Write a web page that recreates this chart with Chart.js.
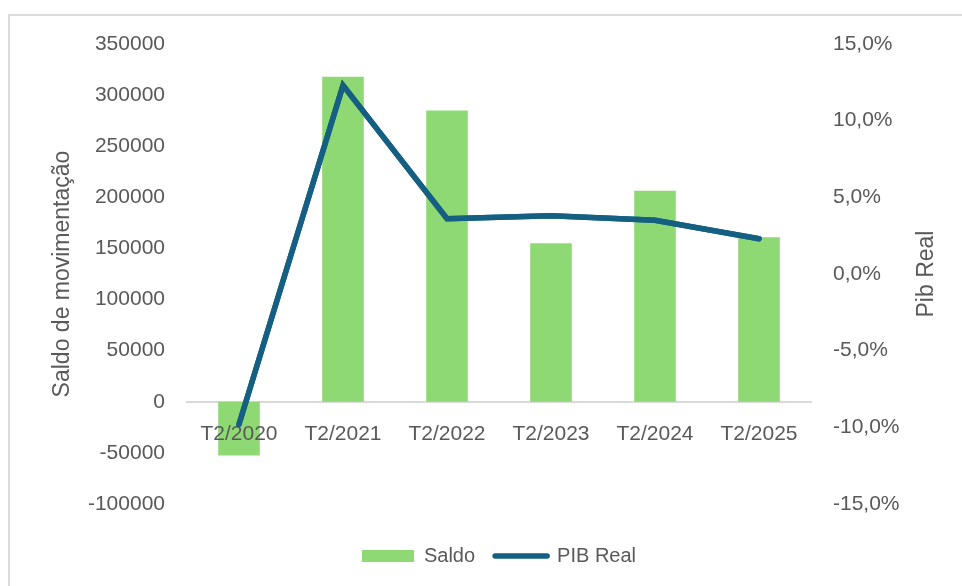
<!DOCTYPE html>
<html>
<head>
<meta charset="utf-8">
<script src="https://cdn.jsdelivr.net/npm/chart.js@4.4.1/dist/chart.umd.min.js"></script>
<style>
  html, body { margin: 0; padding: 0; background: #fff; }
  #frame { position: absolute; left: 8px; top: 14px; width: 960px; height: 580px;
           border-top: 2px solid #dcdcdc; border-left: 2px solid #dcdcdc; }
  #wrap { position: absolute; left: 0; top: 0; width: 962px; height: 586px; }
</style>
</head>
<body>
<div id="frame"></div>
<div id="wrap"><canvas id="grafico"></canvas></div>
<script>
const categorias = ['T2/2020', 'T2/2021', 'T2/2022', 'T2/2023', 'T2/2024', 'T2/2025'];
const saldo = [-52500, 318000, 285000, 155000, 206500, 161000];
const pibReal = [-9.8, 12.3, 3.6, 3.8, 3.5, 2.3];

const VERDE = '#8ED973';
const AZUL = '#156082';
const CINZA = '#595959';

Chart.defaults.font.family = "'Liberation Sans', Arial, sans-serif";
Chart.defaults.color = CINZA;

// titulo do eixo da direita, lido de baixo para cima como no Excel,
// e a linha redesenhada por cima dos rotulos do eixo x
const extras = {
  id: 'extras',
  afterDraw(chart) {
    const ctx = chart.ctx;
    const area = chart.chartArea;
    chart.getDatasetMeta(0).controller.draw();
    ctx.save();
    ctx.translate(927, (area.top + area.bottom) / 2);
    ctx.rotate(-Math.PI / 2);
    ctx.font = "23px 'Liberation Sans', Arial, sans-serif";
    ctx.fillStyle = CINZA;
    ctx.textAlign = 'center';
    ctx.textBaseline = 'middle';
    ctx.fillText('Pib Real', 0, 0);
    ctx.restore();
  }
};

new Chart(document.getElementById('grafico'), {
  data: {
    labels: categorias,
    datasets: [
      {
        type: 'line',
        label: 'PIB Real',
        data: pibReal,
        yAxisID: 'y1',
        borderColor: AZUL,
        borderWidth: 5.5,
        borderCapStyle: 'round',
        tension: 0,
        pointRadius: 0,
        pointStyle: 'line',
        pointBorderColor: AZUL,
        pointBorderWidth: 5.5,
        order: 0
      },
      {
        type: 'bar',
        label: 'Saldo',
        data: saldo,
        yAxisID: 'y',
        backgroundColor: VERDE,
        borderWidth: 0,
        pointStyle: 'rect',
        categoryPercentage: 1,
        barPercentage: 0.4,
        order: 1
      }
    ]
  },
  options: {
    responsive: true,
    maintainAspectRatio: false,
    animation: false,
    layout: { padding: { left: 10, right: 10, top: 44, bottom: 10 } },
    scales: {
      x: {
        position: { y: 0 },
        grid: { display: false, drawTicks: false },
        border: { display: true, color: '#d9d9d9', width: 2 },
        ticks: { font: { size: 21 }, padding: 20, maxRotation: 0, z: 1 }
      },
      y: {
        position: 'left',
        min: -100000,
        max: 350000,
        grid: { display: false, drawTicks: false },
        border: { display: false },
        ticks: { stepSize: 50000, font: { size: 21 }, padding: 22, callback: v => String(v) },
        title: { display: true, text: 'Saldo de movimentação', font: { size: 23 }, padding: 39 },
        afterFit(scale) { scale.width = 177; }
      },
      y1: {
        position: 'right',
        min: -15,
        max: 15,
        grid: { display: false, drawTicks: false },
        border: { display: false },
        ticks: { stepSize: 5, font: { size: 21 }, padding: 22,
                 callback: v => v.toFixed(1).replace('.', ',') + '%' },
        afterFit(scale) { scale.width = 141; }
      }
    },
    plugins: {
      legend: {
        position: 'bottom',
        fullSize: false,
        reverse: true,
        title: { display: true, text: ' ', font: { size: 10 }, padding: 5 },
        labels: {
          usePointStyle: true,
          pointStyleWidth: 52,
          boxHeight: 12,
          padding: 20,
          font: { size: 20 },
          color: CINZA,
          generateLabels(chart) {
            const itens = Chart.defaults.plugins.legend.labels.generateLabels(chart);
            itens.forEach(it => { if (it.pointStyle === 'line') it.lineCap = 'round'; });
            return itens;
          }
        }
      },
      tooltip: { enabled: false }
    }
  },
  plugins: [extras]
});
</script>
</body>
</html>
